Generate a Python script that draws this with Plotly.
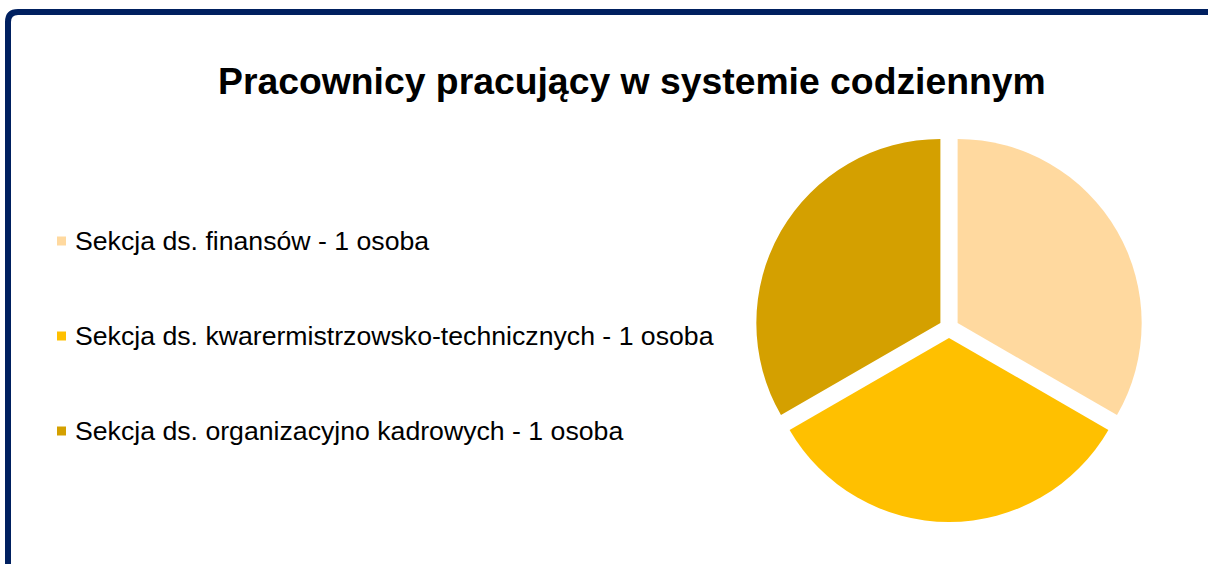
import plotly.graph_objects as go

W, H = 1208, 564

title_text = "Pracownicy pracujący w systemie codziennym"
labels = [
    "Sekcja ds. finansów - 1 osoba",
    "Sekcja ds. kwarermistrzowsko-technicznych - 1 osoba",
    "Sekcja ds. organizacyjno kadrowych - 1 osoba",
]
values = [1, 1, 1]
colors = ["#FFD99F", "#FFC000", "#D4A000"]


def px(x):
    return x / W


def py(y):
    return 1 - y / H


fig = go.Figure()
fig.add_trace(go.Pie(
    labels=labels,
    values=values,
    sort=False,
    direction="clockwise",
    rotation=0,
    pull=[0.054] * len(values),
    marker=dict(colors=colors, line=dict(width=0)),
    textinfo="none",
    hoverinfo="label+value",
    showlegend=False,
    domain=dict(x=[px(755), px(1143)], y=[py(522), py(134)]),
))

shapes = []
# frame border (top and left, rounded corner)
shapes.append(dict(
    type="path", xref="paper", yref="paper",
    path=(f"M {px(8)},{py(580)} L {px(8)},{py(22)} "
          f"Q {px(8)},{py(12)} {px(18)},{py(12)} L {px(1220)},{py(12)}"),
    line=dict(color="#002060", width=6),
))

annotations = []
for i, (lab, col) in enumerate(zip(labels, colors)):
    yc = 241 + i * 95
    shapes.append(dict(
        type="rect", xref="paper", yref="paper",
        x0=px(57), x1=px(66), y0=py(yc + 4.5), y1=py(yc - 4.5),
        fillcolor=col, line=dict(width=0),
    ))
    annotations.append(dict(
        text=lab, xref="paper", yref="paper",
        x=px(73), y=py(yc), xanchor="left", yanchor="middle",
        showarrow=False,
        font=dict(family="Liberation Sans, Arial, sans-serif", size=26.67, color="#000000"),
    ))

annotations.append(dict(
    text=f"<b>{title_text}</b>", xref="paper", yref="paper",
    x=px(632), y=py(81), xanchor="center", yanchor="middle",
    showarrow=False,
    font=dict(family="Liberation Sans, Arial, sans-serif", size=37.33, color="#000000"),
))

fig.update_layout(
    width=W, height=H,
    margin=dict(l=0, r=0, t=0, b=0),
    paper_bgcolor="#FFFFFF",
    plot_bgcolor="#FFFFFF",
    shapes=shapes,
    annotations=annotations,
    showlegend=False,
)

fig.write_html(
    "out.html",
    config={"displayModeBar": False},
    post_script="document.body.style.margin='0';document.body.style.overflow='hidden';",
)
